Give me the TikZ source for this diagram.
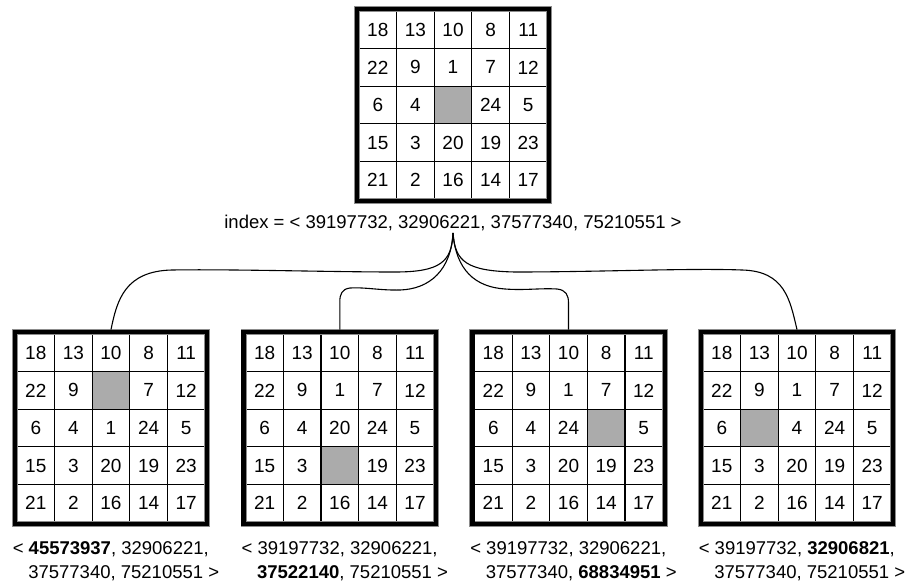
\documentclass[tikz,border=0pt]{standalone}
\usepackage{fontspec}
\setmainfont{Liberation Sans}
\tikzset{
  puzzleframe/.style={draw=black, line width=4.4pt, inner sep=0pt, minimum width=192.4pt, minimum height=192.4pt, preaction={draw=black!45, line width=5.8pt}},
  cellline/.style={line width=1.2pt, black},
  blankcell/.style={fill=black!33},
  cellnum/.style={font=\fontsize{19}{19}\selectfont, inner sep=0pt},
  lbl/.style={font=\fontsize{18.5}{22}\selectfont, inner sep=0pt, anchor=base west},
  conn/.style={line width=1.1pt, black},
}
\def\blankmark{*}
\newcommand\drawpuzzle[4]{%
  \foreach \v [count=\i from 0] in {#4} {
    \pgfmathtruncatemacro\rr{floor(\i/5)}
    \pgfmathtruncatemacro\cc{\i-5*\rr}
    \ifx\v\blankmark
      \fill[blankcell] ({#2+37.6*\cc},{#3+37.6*\rr}) rectangle ++(37.6,37.6);
    \else
      \node[cellnum] at ({#2+37.6*\cc+18.8},{#3+37.6*\rr+18.8}) {\v};
    \fi
  }
  \foreach \k in {1,...,4} {
    \draw[cellline] ({#2+37.6*\k},#3) -- ++(0,188);
    \draw[cellline] (#2,{#3+37.6*\k}) -- ++(188,0);
  }
  \node[puzzleframe] (#1) at ({#2+94},{#3+94}) {};
}
\begin{document}
\begin{tikzpicture}[x=1pt,y=-1pt]
\useasboundingbox (0,0) rectangle (912,586);
\fill[white] (0,0) rectangle (912,586);

\drawpuzzle{g0}{359}{11}{18,13,10,8,11,22,9,1,7,12,6,4,*,24,5,15,3,20,19,23,21,2,16,14,17}
\drawpuzzle{g1}{17}{334}{18,13,10,8,11,22,9,*,7,12,6,4,1,24,5,15,3,20,19,23,21,2,16,14,17}
\drawpuzzle{g2}{245.8}{334}{18,13,10,8,11,22,9,1,7,12,6,4,20,24,5,15,3,*,19,23,21,2,16,14,17}
\drawpuzzle{g3}{474.5}{334}{18,13,10,8,11,22,9,1,7,12,6,4,24,*,5,15,3,20,19,23,21,2,16,14,17}
\drawpuzzle{g4}{703}{334}{18,13,10,8,11,22,9,1,7,12,6,*,4,24,5,15,3,20,19,23,21,2,16,14,17}

\node[lbl, anchor=base] (idx) at (453,228) {index = < 39197732, 32906221, 37577340, 75210551 >};
\coordinate (fan) at (453,233);

\node[lbl] (l1a) at (12.6,554) {< \textbf{45573937}, 32906221,};
\node[lbl] (l1b) at (28.1,578) {37577340, 75210551 >};
\node[lbl] (l2a) at (241.4,554) {< 39197732, 32906221,};
\node[lbl] (l2b) at (256.9,578) {\textbf{37522140}, 75210551 >};
\node[lbl] (l3a) at (470.1,554) {< 39197732, 32906221,};
\node[lbl] (l3b) at (485.6,578) {37577340, \textbf{68834951} >};
\node[lbl] (l4a) at (698.6,554) {< 39197732, \textbf{32906821},};
\node[lbl] (l4b) at (714.1,578) {37577340, 75210551 >};

\draw[conn] (fan) .. controls (452,262) and (440,272) .. (395,272)
  .. controls (330,272) and (230,269) .. (172,270)
  .. controls (125,271) and (117,300) .. (g1.north);
\draw[conn] (fan) .. controls (451,270) and (430,289) .. (400,290)
  .. controls (380,290.5) and (365,287) .. (350,288)
  .. controls (342,289) and (339.8,294) .. (339.8,302) -- (g2.north);
\draw[conn] (fan) .. controls (456,270) and (475,287) .. (505,289)
  .. controls (525,290.5) and (540,288) .. (557,289)
  .. controls (566,290) and (568.5,295) .. (568.5,303) -- (g3.north);
\draw[conn] (fan) .. controls (455,262) and (467,271) .. (515,272)
  .. controls (600,272) and (690,268) .. (742,270)
  .. controls (785,271) and (790,300) .. (g4.north);
\end{tikzpicture}
\end{document}
